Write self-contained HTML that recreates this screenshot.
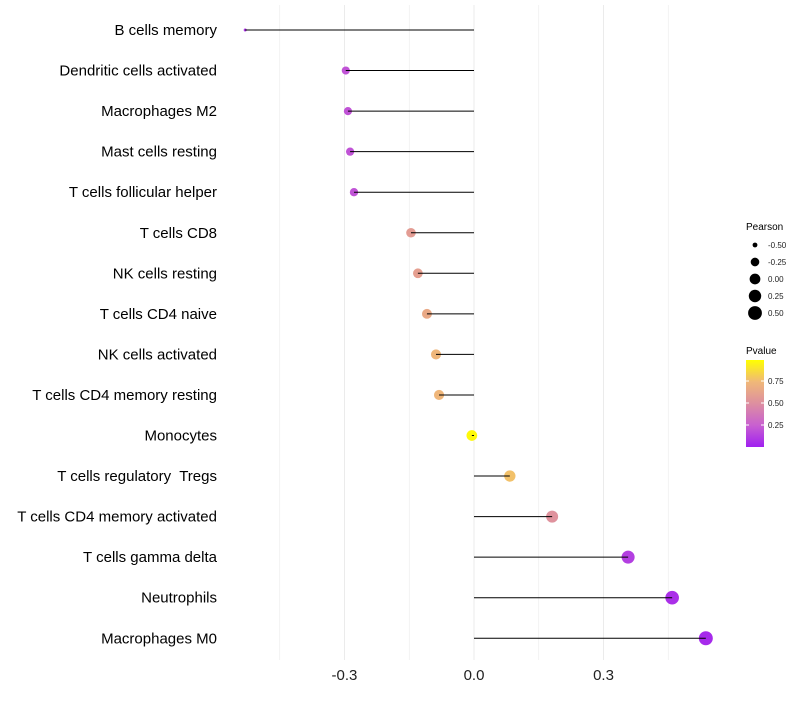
<!DOCTYPE html>
<html><head><meta charset="utf-8"><style>
body{margin:0;background:#fff;font-family:"Liberation Sans",sans-serif}
</style></head><body>
<svg id="chart" width="800" height="700" xmlns="http://www.w3.org/2000/svg">
<defs><linearGradient id="pg" x1="0" y1="1" x2="0" y2="0">
<stop offset="0" stop-color="#a020f0"/><stop offset="0.25" stop-color="#c860d0"/><stop offset="0.5" stop-color="#dd8fa0"/><stop offset="0.75" stop-color="#f0b878"/><stop offset="1" stop-color="#ffff00"/></linearGradient></defs>
<g id="grid"></g><g id="dots"></g><g id="marks"></g><g id="ylabels"></g><g id="xlabels"></g><g id="legend"></g>
</svg>
<script>
const categories=["B cells memory","Dendritic cells activated","Macrophages M2","Mast cells resting","T cells follicular helper","T cells CD8","NK cells resting","T cells CD4 naive","NK cells activated","T cells CD4 memory resting","Monocytes","T cells regulatory  Tregs","T cells CD4 memory activated","T cells gamma delta","Neutrophils","Macrophages M0"];
const pearson=[-0.53,-0.297,-0.292,-0.287,-0.278,-0.146,-0.130,-0.109,-0.088,-0.081,-0.005,0.083,0.181,0.357,0.459,0.537];
const pvalue=[0.08,0.2,0.2,0.2,0.2,0.58,0.6,0.66,0.74,0.74,0.98,0.78,0.52,0.12,0.06,0.04];
const xTicks=[-0.3,0,0.3];
const sizeTicks=[-0.5,-0.25,0,0.25,0.5];
const pTicks=[0.25,0.5,0.75];
const NS="http://www.w3.org/2000/svg";
const x=v=>474+v*431.7;
const y=i=>30+i*40.55;
const r=v=>1.5+5.5*Math.sqrt(Math.max(0,v+0.53)/1.067);
const stops=[[0,[160,32,240]],[0.25,[200,96,208]],[0.5,[221,143,160]],[0.75,[240,184,120]],[1,[255,255,0]]];
function col(p){for(let k=1;k<stops.length;k++){if(p<=stops[k][0]){const a=stops[k-1],b=stops[k],t=(p-a[0])/(b[0]-a[0]);return"rgb("+a[1].map((c,j)=>Math.round(c+(b[1][j]-c)*t)).join(",")+")";}}return"rgb(255,255,0)";}
function mk(t,at,parent){const e=document.createElementNS(NS,t);for(const k in at)e.setAttribute(k,at[k]);document.getElementById(parent).appendChild(e);return e;}
[-0.45,-0.15,0.15,0.45].concat(xTicks).forEach(v=>{const l=mk("line",{x1:x(v),x2:x(v),y1:5,y2:660,stroke:"#ebebeb","stroke-width":xTicks.includes(v)?1:0.6},"grid");

});
categories.forEach((c,i)=>{
const l=mk("line",{x1:x(0),x2:x(pearson[i]),y1:y(i),y2:y(i),stroke:"#000","stroke-width":1},"marks");


const d=mk("circle",{cx:x(pearson[i]),cy:y(i),r:r(pearson[i]),fill:col(pvalue[i])},"dots");


const t=mk("text",{x:217,y:y(i)+5,"text-anchor":"end","font-size":15,fill:"#000","xml:space":"preserve",style:"white-space:pre"},"ylabels");t.textContent=c;

});
xTicks.forEach(v=>{const t=mk("text",{x:x(v),y:680,"text-anchor":"middle","font-size":15,fill:"#222"},"xlabels");t.textContent=v.toFixed(1);

});
let t=mk("text",{x:746,y:230,"font-size":10,fill:"#000"},"legend");t.textContent="Pearson";


sizeTicks.forEach((v,k)=>{const yy=245+k*17;const c=mk("circle",{cx:755,cy:yy,r:r(v),fill:"#000"},"legend");


const tt=mk("text",{x:768,y:yy+3,"font-size":8,fill:"#222"},"legend");tt.textContent=v.toFixed(2);

});
t=mk("text",{x:746,y:354,"font-size":10,fill:"#000"},"legend");t.textContent="Pvalue";


const bar=mk("rect",{x:746,y:360,width:18,height:87,fill:"url(#pg)"},"legend");


pTicks.forEach(p=>{const yy=447-p*88;mk("line",{x1:746,x2:749,y1:yy,y2:yy,stroke:"#fff"},"legend");mk("line",{x1:761,x2:764,y1:yy,y2:yy,stroke:"#fff"},"legend");
const tt=mk("text",{x:768,y:yy+3,"font-size":8,fill:"#222"},"legend");tt.textContent=p.toFixed(2);

});
</script>
</body></html>
